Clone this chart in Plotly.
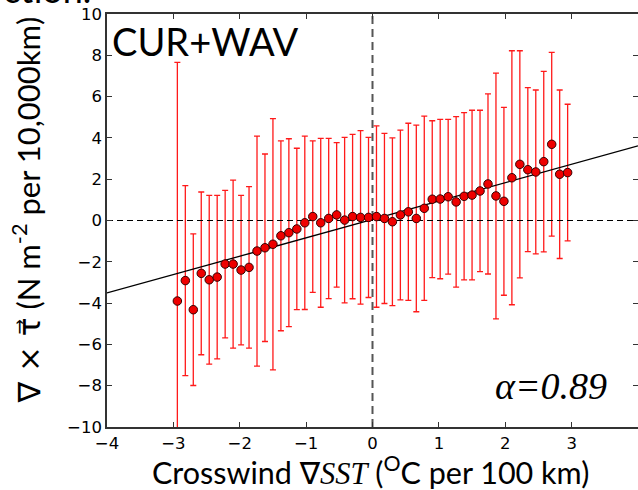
import plotly.graph_objects as go

# Bin centres of crosswind SST gradient (degC per 100 km)
sst_grad = [-2.94, -2.82, -2.70, -2.58, -2.46, -2.34, -2.22, -2.10, -1.98, -1.86,
            -1.74, -1.62, -1.50, -1.38, -1.26, -1.14, -1.02, -0.90, -0.78, -0.66,
            -0.54, -0.42, -0.30, -0.18, -0.06, 0.06, 0.18, 0.30, 0.42, 0.54,
            0.66, 0.78, 0.90, 1.02, 1.14, 1.26, 1.38, 1.50, 1.62, 1.74,
            1.86, 1.98, 2.10, 2.22, 2.34, 2.46, 2.58, 2.70, 2.82, 2.94]

# Bin-mean wind stress curl (N m-2 per 10,000 km)
curl_mean = [-3.90, -2.91, -4.32, -2.56, -2.87, -2.74, -2.11, -2.11, -2.40, -2.27,
             -1.48, -1.32, -1.15, -0.74, -0.59, -0.41, -0.11, 0.19, -0.11, 0.10,
             0.27, 0.02, 0.19, 0.15, 0.15, 0.19, 0.10, -0.06, 0.27, 0.42,
             0.10, 0.59, 1.03, 1.04, 1.15, 0.90, 1.17, 1.23, 1.43, 1.77,
             1.19, 0.93, 2.07, 2.72, 2.46, 2.35, 2.85, 3.69, 2.24, 2.32]

# Standard deviation within each bin
curl_std = [11.56, 4.60, 3.67, 3.94, 4.09, 3.96, 3.57, 4.07, 3.62, 3.91,
            5.57, 4.54, 6.08, 4.60, 4.55, 3.91, 4.20, 3.67, 4.09, 3.88,
            3.50, 4.01, 3.98, 4.20, 3.88, 4.39, 4.12, 4.06, 4.11, 4.29,
            4.52, 4.46, 3.80, 3.86, 3.75, 4.13, 4.05, 4.11, 3.91, 4.36,
            5.95, 4.55, 6.15, 5.50, 3.97, 3.97, 4.37, 4.45, 4.08, 3.31]

# Linear fit: coupling coefficient and offset
alpha = 0.89
offset = 0.05
fit_x = [-4, 4]
fit_y = [alpha * v + offset for v in fit_x]

x_ticks = [-4, -3, -2, -1, 0, 1, 2, 3, 4]
y_ticks = [-10, -8, -6, -4, -2, 0, 2, 4, 6, 8, 10]


def fmt(v):
    return ("\u2212" + str(abs(v))) if v < 0 else str(v)


fig = go.Figure()

# error bars
fig.add_trace(go.Scatter(
    x=sst_grad, y=curl_mean, mode="markers",
    marker=dict(size=1, color="rgba(0,0,0,0)"),
    error_y=dict(type="data", array=curl_std, visible=True,
                 color="#ff1a1a", thickness=1.3, width=3),
    hoverinfo="skip", showlegend=False))

# zero reference lines
fig.add_trace(go.Scatter(x=[-4, 4], y=[0, 0], mode="lines",
                         line=dict(color="black", width=1.2, dash="6px,4px"),
                         showlegend=False, hoverinfo="skip"))
fig.add_trace(go.Scatter(x=[0, 0], y=[-10, 10], mode="lines",
                         line=dict(color="#555555", width=2, dash="8px,5px"),
                         showlegend=False, hoverinfo="skip"))

# regression line
fig.add_trace(go.Scatter(x=fit_x, y=fit_y, mode="lines",
                         line=dict(color="black", width=1.3),
                         showlegend=False, hoverinfo="skip"))

# bin means
fig.add_trace(go.Scatter(
    x=sst_grad, y=curl_mean, mode="markers",
    marker=dict(size=8.5, color="#ee0000", line=dict(color="#330000", width=1)),
    showlegend=False))

# right-hand tick marks (no spine)
fig.add_trace(go.Scatter(x=[None], y=[None], yaxis="y2", showlegend=False,
                         hoverinfo="skip"))

axis_font = dict(family="DejaVu Sans", size=16.5, color="black")

fig.update_layout(
    width=638, height=490,
    margin=dict(l=106.5, r=0, t=14, b=63),
    paper_bgcolor="white", plot_bgcolor="white",
    xaxis=dict(range=[-4, 4], tickvals=x_ticks, ticktext=[fmt(v) for v in x_ticks],
               showgrid=False, zeroline=False, showline=True, linecolor="#333333",
               linewidth=1.5, mirror="ticks", ticks="inside", ticklen=5,
               tickcolor="#333333", tickfont=axis_font),
    yaxis=dict(range=[-10, 10], tickvals=y_ticks, ticktext=[fmt(v) for v in y_ticks],
               showgrid=False, zeroline=False, showline=True, linecolor="#333333",
               linewidth=1.5, ticks="inside", ticklen=5, tickcolor="#333333",
               tickfont=axis_font),
    yaxis2=dict(range=[-10, 10], overlaying="y", side="right", tickvals=y_ticks,
                showticklabels=False, showgrid=False, zeroline=False, showline=False,
                ticks="inside", ticklen=5, tickcolor="#333333"),
)

fig.add_annotation(text="CUR+WAV", xref="paper", yref="paper", x=0.005, y=0.995,
                   xanchor="left", yanchor="top", showarrow=False,
                   font=dict(family="Lato", size=38, color="black"))

fig.add_annotation(text="<i>\u03b1=0.89</i>", xref="paper", yref="paper",
                   x=0.945, y=0.10, xanchor="right", yanchor="middle", showarrow=False,
                   font=dict(family="Liberation Serif", size=38, color="black"))

fig.add_annotation(
    text="Crosswind <span style=\"font-family:'DejaVu Sans'\">\u2207</span>"
         "<span style=\"font-family:'Liberation Serif'\"><i>SST</i></span> "
         "(<sup>O</sup>C per 100 km)",
    xref="paper", yref="paper", x=(370 - 106.5) / 531.5, y=-0.106,
    xanchor="center", yanchor="middle", showarrow=False,
    font=dict(family="Lato", size=30.5, color="black"))

fig.add_annotation(
    text="<span style=\"font-family:'DejaVu Sans'\">\u2207 \u00d7 \u03c4\u20d7</span>"
         " (N m<sup>-2</sup> per 10,000km)",
    xref="paper", yref="paper", x=(26 - 106.5) / 531.5, y=(427 - 210) / 413,
    xanchor="center", yanchor="middle", textangle=-90, showarrow=False,
    font=dict(family="Lato", size=31, color="black"))

fig.add_annotation(text="ction.", xref="paper", yref="paper",
                   x=-0.2, y=(427 - 13) / 413, xanchor="left", yanchor="bottom",
                   showarrow=False, font=dict(family="Lato", size=36, color="black"))

fig.write_html("out.html")
